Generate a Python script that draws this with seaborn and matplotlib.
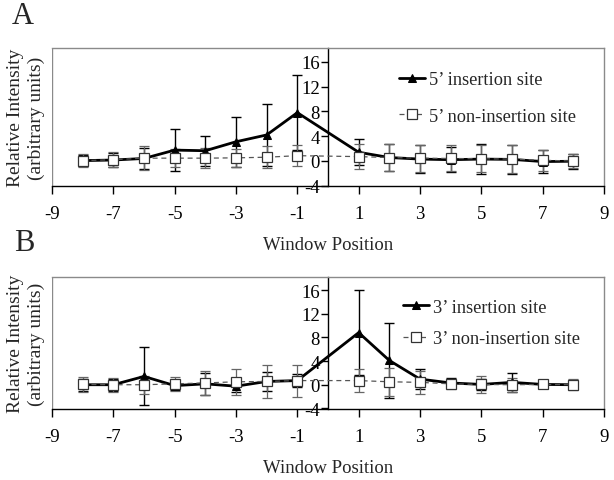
import matplotlib
matplotlib.use("Agg")
import matplotlib.pyplot as plt
import numpy as np
import pandas as pd
import seaborn as sns

# ---- data ----
positions = [-8, -7, -6, -5, -4, -3, -2, -1, 1, 2, 3, 4, 5, 6, 7, 8]

a_ins = [0.05, 0.15, 0.4, 1.75, 1.65, 3.1, 4.2, 7.8, 1.4, 0.55, 0.3, 0.2, 0.3, 0.25, -0.1, -0.05]
a_ins_err = [0.9, 1.2, 1.7, 3.45, 2.4, 4.0, 5.0, 6.1, 2.1, 2.2, 2.3, 2.0, 2.4, 2.3, 1.8, 1.2]
a_non = [0.05, 0.2, 0.45, 0.45, 0.45, 0.5, 0.6, 0.85, 0.7, 0.55, 0.45, 0.4, 0.35, 0.3, 0.1, 0.0]
a_non_err = [1.0, 1.2, 1.9, 1.5, 1.6, 1.5, 1.8, 1.7, 2.0, 2.2, 2.2, 2.1, 2.2, 2.3, 1.7, 1.2]

b_ins = [0.0, 0.0, 1.4, -0.15, 0.15, -0.25, 0.55, 0.7, 8.8, 4.1, 0.95, 0.3, 0.05, 0.4, 0.05, 0.0]
b_ins_err = [1.0, 1.0, 4.9, 0.8, 1.9, 1.0, 1.6, 1.1, 7.2, 6.3, 1.7, 0.9, 1.0, 1.65, 0.6, 0.8]
b_non = [0.05, 0.0, 0.0, 0.15, 0.3, 0.5, 0.55, 0.7, 0.7, 0.5, 0.4, 0.15, 0.05, 0.0, 0.05, 0.0]
b_non_err = [1.3, 1.2, 1.5, 1.2, 2.0, 2.2, 2.8, 2.7, 2.0, 2.4, 2.0, 0.9, 1.4, 1.2, 0.5, 0.9]

labels_a = ["5\u2019 insertion site", "5\u2019 non-insertion site"]
labels_b = ["3\u2019 insertion site", "3\u2019 non-insertion site"]

xticks = [-9, -7, -5, -3, -1, 1, 3, 5, 7, 9]
yticks = [-4, 0, 4, 8, 12, 16]

sns.set_theme(style="white")
plt.rcParams["font.family"] = ["Liberation Serif", "DejaVu Serif"]

W, H = 614, 481
fig = plt.figure(figsize=(W / 100, H / 100), dpi=100)
fig.patch.set_facecolor("white")

GRAY = "#8a8a8a"


def panel(rect, ins, ins_err, non, non_err, labels, ylim, leg_anchor, lspace):
    ax = fig.add_axes(rect)
    ax.set_facecolor("white")
    df = pd.DataFrame({"pos": positions, "ins": ins, "non": non})
    ax.errorbar(positions, ins, yerr=ins_err, fmt="none", ecolor="black",
                elinewidth=1.0, capsize=3.5, capthick=1.0, zorder=3)
    ax.errorbar(positions, non, yerr=non_err, fmt="none", ecolor="#666666",
                elinewidth=0.9, capsize=3.5, capthick=0.9, zorder=4)
    sns.lineplot(data=df, x="pos", y="ins", ax=ax, color="black", linewidth=2.0,
                 marker="^", markersize=6, markerfacecolor="black",
                 markeredgecolor="black", label=labels[0], zorder=5)
    sns.lineplot(data=df, x="pos", y="non", ax=ax, color="#555555", linewidth=0.9,
                 linestyle=(0, (4, 3)), marker="s", markersize=6.5,
                 markerfacecolor="white", markeredgecolor="#333333",
                 markeredgewidth=0.9, label=labels[1], zorder=6)
    ax.set_xlim(-9, 9)
    ax.set_ylim(*ylim)
    ax.set_xticks(xticks)
    ax.set_xticklabels([str(t) for t in xticks])
    ax.set_yticks(yticks)
    ax.set_yticklabels([str(t) for t in yticks])

    for s in ["top", "right"]:
        ax.spines[s].set_color(GRAY)
        ax.spines[s].set_linewidth(1.0)
    ax.spines["bottom"].set_color("black")
    ax.spines["bottom"].set_linewidth(1.0)
    ax.spines["left"].set_position(("data", 0))
    ax.spines["left"].set_color("black")
    ax.spines["left"].set_linewidth(1.0)
    ax.axvline(-9, color=GRAY, linewidth=1.0, zorder=0.5)

    ax.tick_params(axis="x", direction="out", length=6, width=1, pad=8,
                   labelsize=13.5, colors="black", bottom=True)
    ax.tick_params(axis="y", direction="out", length=5, width=1, pad=1,
                   labelsize=13.5, colors="black", left=True)

    ax.set_xlabel("Window Position", fontsize=13.5, labelpad=10)
    ax.set_ylabel("Relative Intensity\n(arbitrary units)", fontsize=14,
                  linespacing=1.3)
    ax.yaxis.set_label_coords(-0.012, 0.5)

    ax.legend(loc="center left", bbox_to_anchor=leg_anchor, frameon=False,
              fontsize=13.2, handlelength=1.4, handletextpad=0.25,
              labelspacing=lspace, borderpad=0, borderaxespad=0)
    return ax


panel([52 / W, 1 - 187 / H, 552 / W, 138 / H], a_ins, a_ins_err, a_non,
      a_non_err, labels_a, (-4.05, 18.25), (0.6286, 0.638), 1.05)
panel([52 / W, 1 - 410 / H, 552 / W, 132 / H], b_ins, b_ins_err, b_non,
      b_non_err, labels_b, (-4.1, 18.2), (0.636, 0.652), 0.8)

fig.text(23 / W, 1 - 17 / H, "A", fontsize=22, ha="center", va="center")
fig.text(24 / W, 1 - 244 / H, "B", fontsize=22, ha="center", va="center")

fig.savefig("out.png", dpi=100, facecolor="white")
